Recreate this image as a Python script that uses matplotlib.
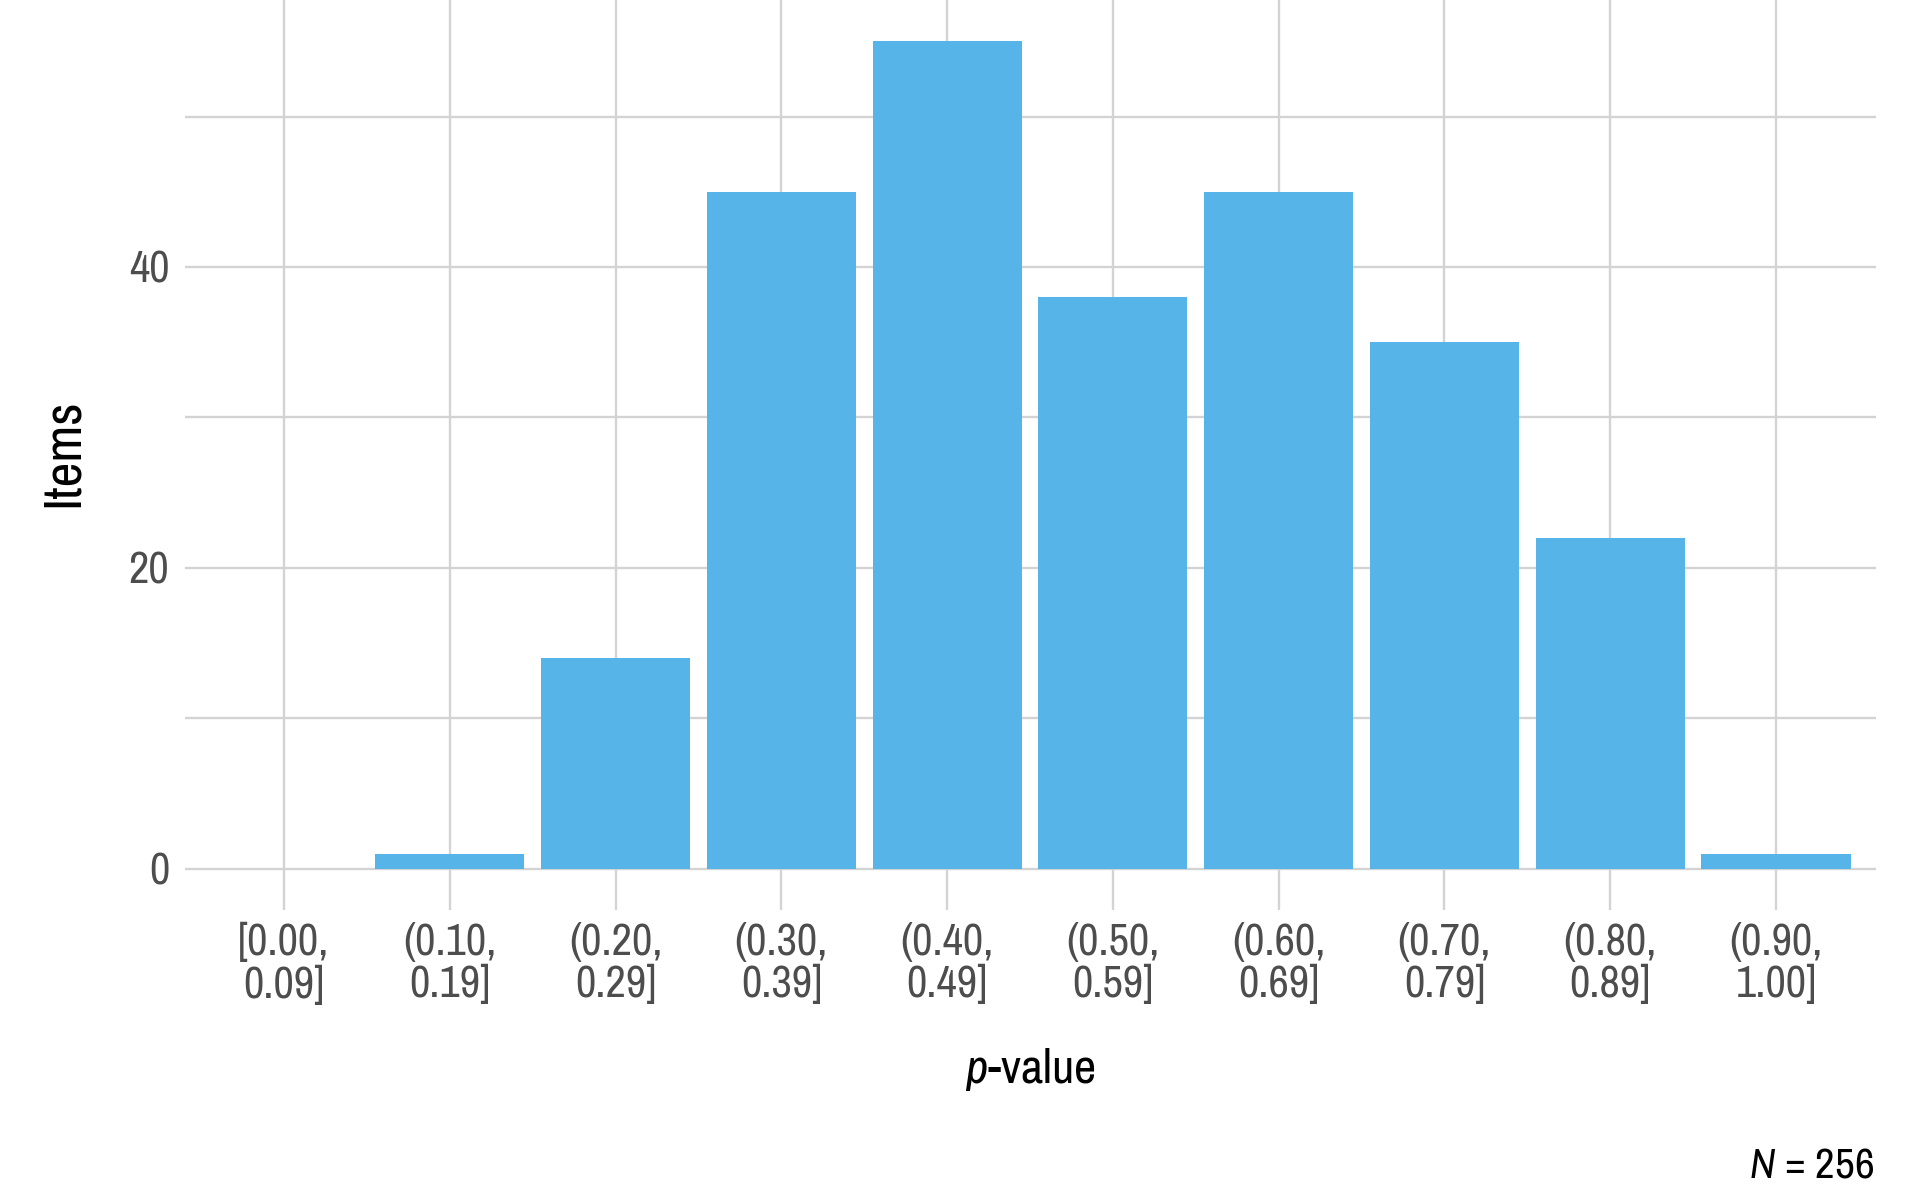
import matplotlib
matplotlib.use('Agg')
import matplotlib.pyplot as plt
from matplotlib import font_manager
import numpy as np

bins = ['[0.00,\n0.09]', '(0.10,\n0.19]', '(0.20,\n0.29]', '(0.30,\n0.39]', '(0.40,\n0.49]',
        '(0.50,\n0.59]', '(0.60,\n0.69]', '(0.70,\n0.79]', '(0.80,\n0.89]', '(0.90,\n1.00]']
items = [0, 1, 14, 45, 55, 38, 45, 35, 22, 1]
yticks = [0, 20, 40]
ygrid = [0, 10, 20, 30, 40, 50]

# narrow font if one is installed
names = sorted(set(f.name for f in font_manager.fontManager.ttflist))
narrow = [n for n in names if 'Narrow' in n or 'Condensed' in n]
plt.rcParams['font.family'] = narrow[:1] + ['Liberation Sans', 'DejaVu Sans']
plt.rcParams['font.stretch'] = 'condensed'
plt.rcParams['mathtext.fontset'] = 'custom'
base = (narrow[:1] + ['Liberation Sans'])[0]
plt.rcParams['mathtext.rm'] = base
plt.rcParams['mathtext.it'] = base + ':italic'

fig = plt.figure(figsize=(19.2, 11.86), dpi=100)
ax = fig.add_axes([184.5 / 1920, 1 - 910 / 1186, (1875.5 - 184.5) / 1920, 910 / 1186])

x = np.arange(len(items))
ax.bar(x, items, width=0.9, color='#56B4E9', zorder=2)

gridcol = '#d3d3d3'
for v in ygrid:
    ax.axhline(v, color=gridcol, lw=1.7, zorder=1)
for xi in x:
    ax.axvline(xi, color=gridcol, lw=1.7, zorder=1)

ax.set_xlim(-0.6, len(items) - 0.4)
ax.set_ylim(-2.75, 57.75)
ax.set_xticks(x)
ax.set_xticklabels(bins, fontsize=32, color='#4d4d4d', linespacing=1.08)
ax.set_yticks(yticks)
ax.set_yticklabels([str(v) for v in yticks], fontsize=32, color='#4d4d4d')
ax.tick_params(axis='both', length=0)
ax.tick_params(axis='x', pad=9)
ax.tick_params(axis='y', pad=11)
for s in ax.spines.values():
    s.set_visible(False)

fig.text(1030 / 1920, 1 - 1083 / 1186, '$p$-value', fontsize=35, ha='center', va='baseline')
fig.text(63 / 1920, 1 - 453 / 1186, 'Items', fontsize=39, rotation=90, ha='center', va='center')
fig.text(1874 / 1920, 1 - 1177 / 1186, '$N$ = 256', fontsize=31, ha='right', va='baseline')

fig.savefig('out.png', dpi=100, facecolor='white')
